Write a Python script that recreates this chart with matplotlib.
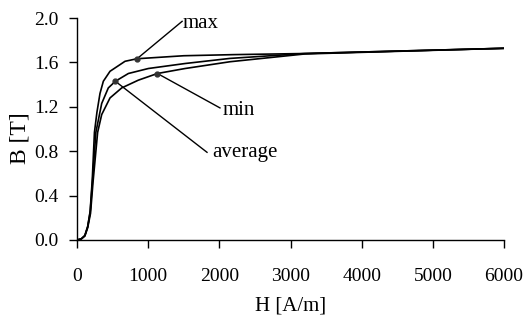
import matplotlib
matplotlib.use("Agg")
import matplotlib.pyplot as plt

# Data
H_max = [0, 60, 110, 150, 185, 215, 245, 280, 323, 370, 464, 675, 844, 1500, 2200, 3200, 6000]
B_max = [0, 0.01, 0.04, 0.12, 0.26, 0.55, 0.97, 1.15, 1.32, 1.43, 1.52, 1.61, 1.633, 1.66, 1.67, 1.68, 1.727]

H_avg = [0, 60, 110, 150, 185, 220, 265, 347, 440, 539, 722, 1003, 1519, 2150, 3200, 6000]
B_avg = [0, 0.01, 0.04, 0.12, 0.25, 0.55, 0.97, 1.23, 1.37, 1.43, 1.50, 1.545, 1.59, 1.636, 1.68, 1.727]

H_min = [0, 60, 110, 150, 190, 225, 290, 347, 464, 628, 862, 1130, 1519, 2150, 3200, 6000]
B_min = [0, 0.01, 0.035, 0.11, 0.24, 0.52, 0.97, 1.13, 1.28, 1.37, 1.44, 1.50, 1.545, 1.606, 1.676, 1.727]

labels = ["max", "min", "average"]
marker_pts = [(844, 1.633), (1130, 1.50), (539, 1.43)]
line_ends = [(1477, 1.97), (2009, 1.19), (1827, 0.79)]
text_pts = [(1489, 1.91), (2051, 1.126), (1897, 0.748)]

x_ticks = [0, 1000, 2000, 3000, 4000, 5000, 6000]
y_ticks = [0.0, 0.4, 0.8, 1.2, 1.6, 2.0]

plt.rcParams['font.family'] = ['Liberation Serif', 'DejaVu Serif']

fig = plt.figure(figsize=(5.25, 3.25), dpi=100)
ax = fig.add_axes([77/525, 1-240/325, (504-77)/525, (240-18)/325])

for H, B in [(H_max, B_max), (H_avg, B_avg), (H_min, B_min)]:
    ax.plot(H, B, color='black', lw=1.2, solid_joinstyle='round')

for lab, (mx, my), (lx, ly), (tx, ty) in zip(labels, marker_pts, line_ends, text_pts):
    ax.plot([mx, lx], [my, ly], color='black', lw=1.0)
    ax.plot([mx], [my], 'o', color='#333333', ms=3.5)
    ax.text(tx, ty, lab, fontsize=15, ha='left', va='baseline')

ax.set_xlim(0, 6000)
ax.set_ylim(0, 2.0)
ax.set_xticks(x_ticks)
ax.set_yticks(y_ticks)
ax.set_yticklabels([f"{v:.1f}" for v in y_ticks])
ax.set_xticklabels([str(v) for v in x_ticks])
for s in ['top', 'right']:
    ax.spines[s].set_visible(False)
for s in ['left', 'bottom']:
    ax.spines[s].set_linewidth(1.0)
ax.tick_params(axis='both', direction='out', length=5.5, width=1.0, labelsize=14)
ax.tick_params(axis='x', pad=15)
ax.tick_params(axis='y', pad=8)
ax.set_xlabel("H [A/m]", fontsize=15)
ax.xaxis.set_label_coords((291-77)/427, (240-296)/222)
ax.set_ylabel("B [T]", fontsize=17, va='center')
ax.yaxis.set_label_coords((20-77)/427, (240-138)/222)

fig.savefig("out.png", dpi=100)
